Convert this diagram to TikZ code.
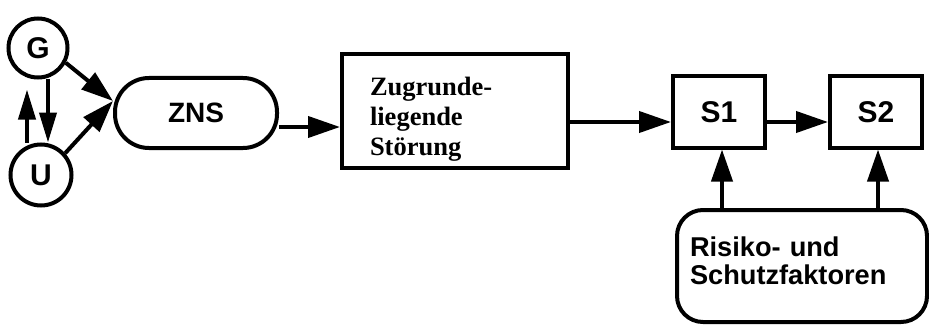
\documentclass[tikz,border=0pt]{standalone}
\usepackage{fontspec}
\setmainfont{Liberation Serif}
\setsansfont{Liberation Sans}
\usepackage{tikz}
\usetikzlibrary{arrows.meta}
\tikzstyle{heavy}=[line width=2pt]
\tikzstyle{arr}=[heavy, -{Triangle[length=16pt,width=10.5pt]}]
\tikzstyle{smallarr}=[heavy, -{Triangle[length=15pt,width=8.5pt]}]
\tikzstyle{label-sf}=[font=\sffamily\bfseries\fontsize{14}{16}\selectfont]
\tikzstyle{circ}=[circle, heavy, draw, inner sep=0pt, minimum size=29.5pt, font=\sffamily\bfseries\fontsize{15}{17}\selectfont]
\tikzstyle{stadium}=[rectangle, heavy, draw, rounded corners=17pt, minimum width=81pt, minimum height=35pt, label-sf]
\tikzstyle{sbox}=[rectangle, heavy, draw, minimum width=46pt, minimum height=35.5pt, font=\sffamily\bfseries\fontsize{15}{17}\selectfont]
\tikzstyle{textbox}=[rectangle, heavy, draw, align=left, text width=85pt, inner xsep=14pt, minimum height=56pt, text height=17pt, font=\rmfamily\bfseries\fontsize{13.25}{15}\selectfont]
\tikzstyle{riskbox}=[rectangle, heavy, draw, rounded corners=13pt, align=left, text width=112pt, inner xsep=6.5pt, minimum height=56pt, text depth=19pt, font=\sffamily\bfseries\fontsize{13.6}{14}\selectfont]

\begin{document}
\begin{tikzpicture}[x=.5pt, y=-.5pt]
	\useasboundingbox (0,0) rectangle (929,326);
	\node[circ] (G) at (38,48) {G};
	\node[circ, minimum size=30.5pt] (U) at (41,175) {U};
	\node[stadium] (ZNS) at (196,113) {ZNS};
	\node[textbox] (ZS) at (455,111) {Zugrunde-\\liegende\\Störung};
	\node[sbox] (S1) at (719,112) {S1};
	\node[sbox] (S2) at (876,112) {S2};
	\node[riskbox] (RS) at (802,266) {Risiko- und\\Schutzfaktoren};
	\coordinate (in) at ([yshift=6pt]ZNS.west);
	\draw[smallarr] ([xshift=5pt]G.south) -- ([xshift=3.5pt]U.north);
	\draw[smallarr, shorten >=5pt] ([xshift=-7pt]U.north) -- ([xshift=-5.5pt]G.south);
	\draw[arr] (G.-28) -- (in);
	\draw[arr] (U.42) -- (in);
	\draw[arr] ([yshift=-7pt]ZNS.east) -- ([yshift=-7pt]ZNS.east -| ZS.west);
	\draw[arr] ([yshift=-5pt]S1.west -| ZS.east) -- ([yshift=-5pt]S1.west);
	\draw[arr] ([yshift=-5pt]S1.east) -- ([yshift=-5pt]S2.west);
	\draw[arr] ([xshift=1.5pt]S1.south |- RS.north) -- ([xshift=1.5pt]S1.south);
	\draw[arr] ([xshift=1pt]S2.south |- RS.north) -- ([xshift=1pt]S2.south);
\end{tikzpicture}
\end{document}
